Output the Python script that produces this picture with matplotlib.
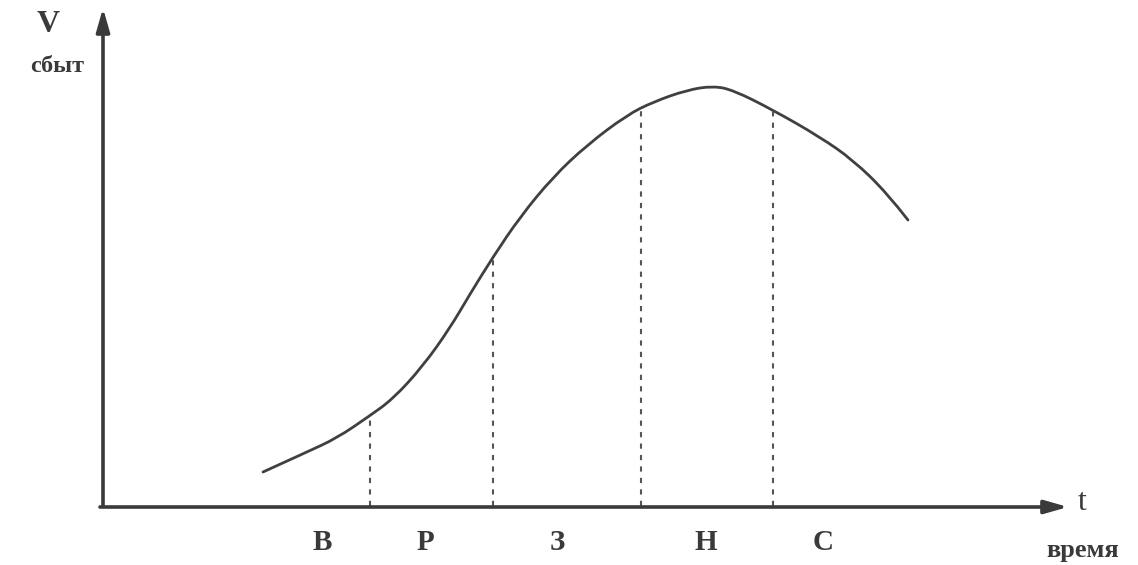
import matplotlib.pyplot as plt
from matplotlib.path import Path
from matplotlib.patches import PathPatch

# product life cycle curve (t from the y-axis, V up from the t-axis)
t_curve = [160, 204, 234, 265, 290, 320, 347, 367, 390, 417, 450, 484,
           524, 550, 584, 610, 630, 670, 717, 750, 784, 805]
v_curve = [34, 54, 68, 89, 107, 140, 178, 212, 249, 289, 329, 361,
           391, 404, 416, 420, 416, 396, 369, 346, 313, 286]

# stage borders (dashed lines) and stage letters
t_borders = [267, 390, 538, 670]
v_borders = [90, 249, 399, 396]
stage_t = [219, 322, 454, 603, 720]
stage_labels = ['В', 'Р', 'З', 'Н', 'С']

INK = '#3a3a3a'
SERIF = ['Liberation Serif', 'DejaVu Serif']

fig = plt.figure(figsize=(11.38, 5.65), dpi=100)
ax = fig.add_axes([0, 0, 1, 1])
ax.set_xlim(-103, 1035)
ax.set_ylim(-59, 506)
ax.axis('off')

# axes with arrows
ax.annotate('', xy=(0, 498), xytext=(0, 0),
            arrowprops=dict(arrowstyle='-|>,head_length=1.4,head_width=0.4',
                            lw=2.6, color=INK, shrinkA=0, shrinkB=0))
ax.annotate('', xy=(965, -1), xytext=(-3, -1),
            arrowprops=dict(arrowstyle='-|>,head_length=1.4,head_width=0.4',
                            lw=2.6, color=INK, shrinkA=0, shrinkB=0))

# smooth curve: quadratic bezier through midpoints, read points as control points
pts = list(zip(t_curve, v_curve))
verts = [pts[0]]
codes = [Path.MOVETO]
for i in range(1, len(pts) - 1):
    mid = ((pts[i][0] + pts[i + 1][0]) / 2, (pts[i][1] + pts[i + 1][1]) / 2)
    if i == len(pts) - 2:
        mid = pts[-1]
    verts += [pts[i], mid]
    codes += [Path.CURVE3, Path.CURVE3]
ax.add_patch(PathPatch(Path(verts, codes), fill=False, edgecolor='#404040',
                       lw=2.0, capstyle='round'))

# dashed stage borders
for tb, vb in zip(t_borders, v_borders):
    ax.plot([tb, tb], [0, vb], color='#555555', lw=1.5, linestyle=(0, (2.5, 3)))

# stage letters
for st, lab in zip(stage_t, stage_labels):
    ax.text(st, -37, lab, ha='center', va='center', fontsize=21,
            fontweight='bold', family=SERIF, color=INK)

# axis labels
ax.text(-55, 482, 'V', ha='center', va='center', fontsize=23,
        fontweight='bold', family=SERIF, color=INK)
ax.text(-46, 439, 'сбыт', ha='center', va='center', fontsize=17.5,
        fontweight='bold', family=SERIF, color=INK)
ax.text(979, 3, 't', ha='center', va='center', fontsize=23,
        family=SERIF, color=INK)
ax.text(980, -44, 'время', ha='center', va='center', fontsize=19,
        fontweight='bold', family=SERIF, color=INK)

fig.savefig('out.png', dpi=100, facecolor='white')
